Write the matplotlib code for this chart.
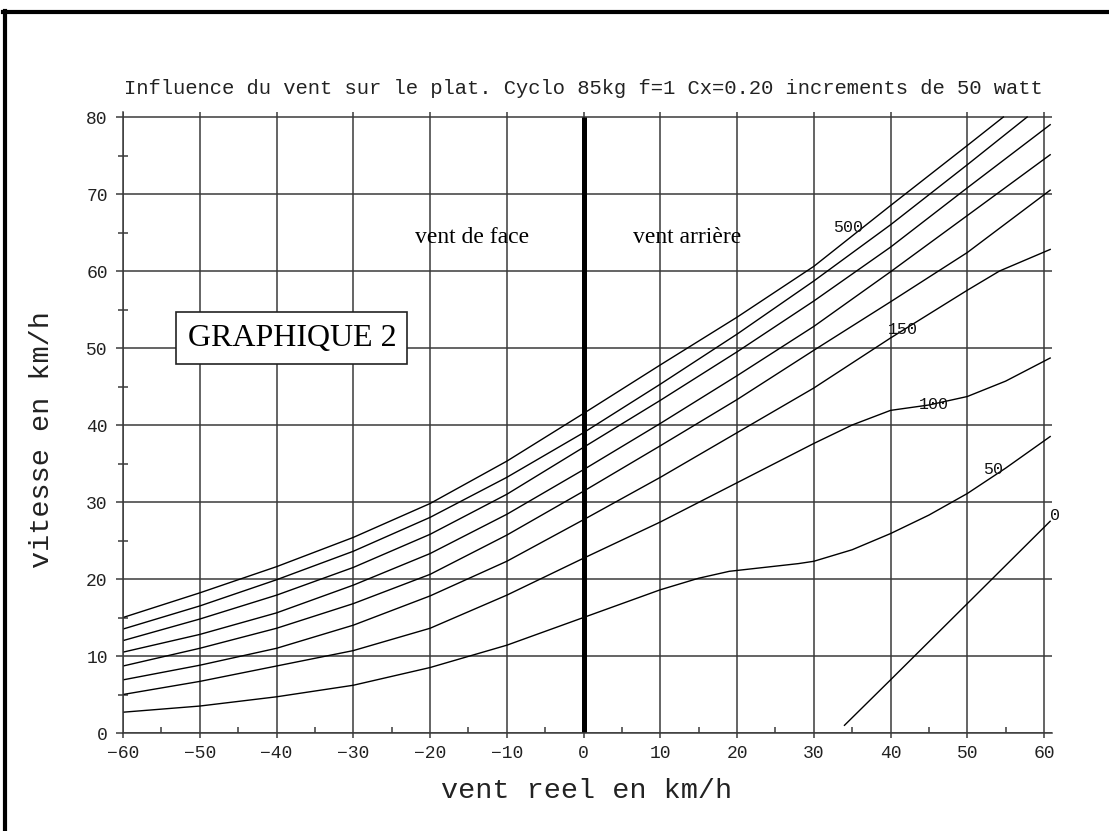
import numpy as np
import matplotlib.pyplot as plt
from matplotlib.lines import Line2D

# --- donnees ---
titre = "Influence du vent sur le plat. Cyclo 85kg f=1 Cx=0.20 increments de 50 watt"

x_std = [-60, -50, -40, -30, -20, -10, 0, 10, 20, 30, 40, 50]

c1_x = x_std + [54.7]
c1_y = [15.0, 18.2, 21.6, 25.4, 29.8, 35.3, 41.5, 47.8, 54.0, 60.6, 68.5, 76.3, 80.0]
c2_x = x_std + [57.8]
c2_y = [13.5, 16.5, 19.9, 23.6, 28.0, 33.2, 39.0, 45.3, 51.8, 58.7, 66.0, 73.8, 80.0]
c3_x = x_std + [60.8]
c3_y = [12.0, 14.8, 17.9, 21.5, 25.8, 31.0, 37.1, 43.2, 49.5, 56.1, 63.1, 70.8, 79.0]
c4_x = x_std + [60.8]
c4_y = [10.5, 12.8, 15.6, 19.2, 23.3, 28.4, 34.2, 40.2, 46.4, 52.8, 59.9, 67.2, 75.1]
c5_x = x_std + [60.8]
c5_y = [8.7, 11.0, 13.6, 16.8, 20.6, 25.7, 31.4, 37.3, 43.3, 49.7, 56.0, 62.4, 70.5]
c6_x = x_std + [54.2, 60.8]
c6_y = [6.9, 8.8, 11.0, 14.0, 17.8, 22.3, 27.7, 33.2, 39.0, 44.8, 51.3, 57.5, 60.0, 62.8]
c7_x = [-60, -50, -40, -30, -20, -10, 0, 10, 20, 30, 35, 40, 45, 50, 55, 60.8]
c7_y = [5.0, 6.7, 8.7, 10.7, 13.6, 17.9, 22.7, 27.4, 32.5, 37.6, 40.0, 41.9, 42.6, 43.7, 45.7, 48.7]
c8_x = [-60, -50, -40, -30, -20, -10, 0, 10, 15, 19, 28, 30, 35, 40, 45, 50, 55, 60.8]
c8_y = [2.7, 3.5, 4.7, 6.2, 8.5, 11.4, 15.0, 18.6, 20.1, 21.0, 22.0, 22.3, 23.8, 25.9, 28.3, 31.1, 34.4, 38.5]
c0_x = [34.0, 40, 50, 60.8]
c0_y = [1.0, 6.9, 16.8, 27.5]

courbes = [(c1_x, c1_y), (c2_x, c2_y), (c3_x, c3_y), (c4_x, c4_y),
           (c5_x, c5_y), (c6_x, c6_y), (c7_x, c7_y), (c8_x, c8_y), (c0_x, c0_y)]

etiquettes = ["500", "150", "100", "50", "0"]
etiq_x = [34.5, 41.6, 45.6, 53.4, 61.4]
etiq_y = [65.6, 52.4, 42.6, 34.2, 28.3]

mono = 'Liberation Mono'
serif = 'Liberation Serif'
gris = '#3a3a3a'

fig = plt.figure(figsize=(11.09, 8.31), dpi=100)
ax = fig.add_axes([123 / 1109, 1 - 733 / 831, 928.7 / 1109, 620.6 / 831])

ax.set_xlim(-60, 61)
ax.set_ylim(0, 80.6)

for cx, cy in courbes:
    ax.plot(cx, cy, color='black', lw=1.0, solid_joinstyle='round')

# axe vent nul
ax.plot([0, 0], [0, 80], color='black', lw=3.6, solid_capstyle='butt')

for t, tx, ty in zip(etiquettes, etiq_x, etiq_y):
    ax.text(tx, ty, t, fontsize=12, family=mono, ha='center', va='center',
            color='#111111', clip_on=False)

ax.text(-14.5, 63.6, "vent de face", fontsize=17, family=serif, ha='center',
        va='baseline', color='black')
ax.text(13.5, 63.6, "vent arrière", fontsize=17, family=serif, ha='center',
        va='baseline', color='black')

ax.text(-38.0, 51.3, "GRAPHIQUE 2", fontsize=23, family=serif, ha='center',
        va='center', color='black', zorder=5,
        bbox=dict(boxstyle='square,pad=0.35', fc='white', ec='#222222', lw=1.2))

# grille
ax.set_xticks(np.arange(-60, 61, 10))
ax.set_yticks(np.arange(0, 81, 10))
ax.set_xticks(np.arange(-55, 60, 10), minor=True)
ax.set_yticks(np.arange(5, 80, 10), minor=True)
ax.grid(True, which='major', color=gris, lw=1.1)
ax.set_axisbelow(True)

for s in ['top', 'right']:
    ax.spines[s].set_visible(False)
for s in ['left', 'bottom']:
    ax.spines[s].set_color(gris)
    ax.spines[s].set_linewidth(1.1)

ax.tick_params(axis='x', which='major', direction='out', length=3.5, width=1.1,
               color=gris, pad=5, labelsize=13, labelcolor='#222222')
ax.tick_params(axis='y', which='major', direction='out', length=5, width=1.1,
               color=gris, pad=6, labelsize=13, labelcolor='#222222')
ax.tick_params(axis='x', which='minor', direction='in', length=4.5, width=1.1, color=gris)
ax.tick_params(axis='y', which='minor', direction='inout', length=7, width=1.1, color=gris)
for lab in ax.get_xticklabels() + ax.get_yticklabels():
    lab.set_family(mono)

fig.text(583.5 / 1109, 1 - 89 / 831, titre, family=mono, fontsize=14.8,
         ha='center', va='center', color='#222222')
fig.text(587 / 1109, 1 - 791 / 831, "vent reel en km/h", family=mono, fontsize=20.5,
         ha='center', va='center', color='#222222')
fig.text(42 / 1109, 1 - 440 / 831, "vitesse en km/h", family=mono, fontsize=20.5,
         ha='center', va='center', rotation=90, color='#222222')

# cadre noir (gauche et haut)
fig.add_artist(Line2D([4.5 / 1109, 4.5 / 1109], [0, 1 - 10.5 / 831], color='black',
                      lw=3.0, transform=fig.transFigure))
fig.add_artist(Line2D([3 / 1109, 1], [1 - 12 / 831, 1 - 12 / 831], color='black',
                      lw=3.0, transform=fig.transFigure))

fig.savefig('out.png', dpi=100)
